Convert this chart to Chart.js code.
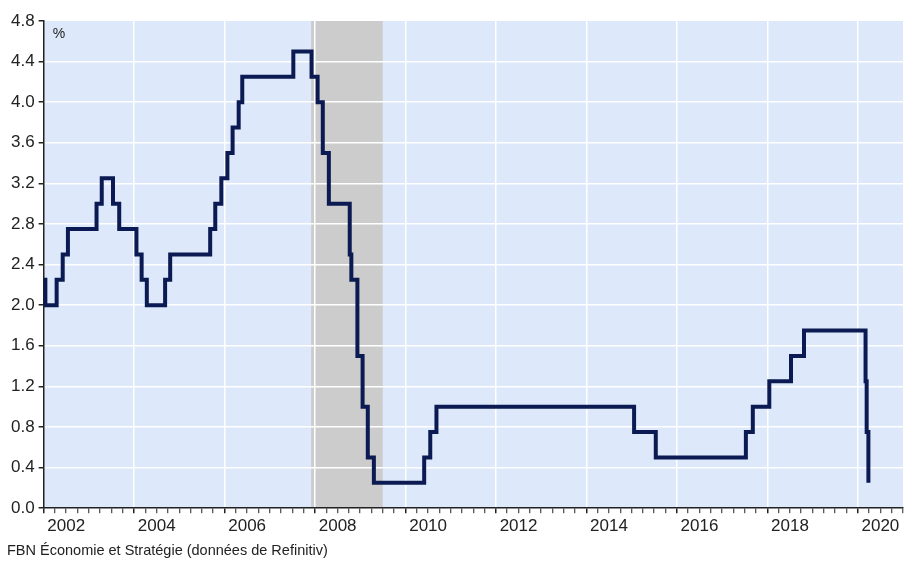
<!DOCTYPE html>
<html>
<head>
<meta charset="utf-8">
<script src="https://cdn.jsdelivr.net/npm/chart.js@4/dist/chart.umd.min.js"></script>
<style>
  html, body { margin: 0; padding: 0; background: #ffffff; }
  #wrap { width: 904px; height: 564px; }
</style>
</head>
<body>
<div id="wrap"><canvas id="rateChart" width="904" height="564"></canvas></div>
<script>
// Taux cible du financement à un jour (dates de changement et nouveau taux, %)
const changeDates = [
  "2002-01-01", "2002-01-15", "2002-04-16", "2002-06-04", "2002-07-16",
  "2003-03-04", "2003-04-15", "2003-07-15", "2003-09-03",
  "2004-01-20", "2004-03-02", "2004-04-13", "2004-09-08", "2004-10-19",
  "2005-09-07", "2005-10-18", "2005-12-06",
  "2006-01-24", "2006-03-07", "2006-04-25", "2006-05-24",
  "2007-07-10", "2007-12-04",
  "2008-01-22", "2008-03-04", "2008-04-22", "2008-10-08", "2008-10-21", "2008-12-09",
  "2009-01-20", "2009-03-03", "2009-04-21",
  "2010-06-01", "2010-07-20", "2010-09-08",
  "2015-01-21", "2015-07-15",
  "2017-07-12", "2017-09-06",
  "2018-01-17", "2018-07-11", "2018-10-24",
  "2020-03-04", "2020-03-13", "2020-03-27"
];
const rates = [
  2.25, 2.00, 2.25, 2.50, 2.75,
  3.00, 3.25, 3.00, 2.75,
  2.50, 2.25, 2.00, 2.25, 2.50,
  2.75, 3.00, 3.25,
  3.50, 3.75, 4.00, 4.25,
  4.50, 4.25,
  4.00, 3.50, 3.00, 2.50, 2.25, 1.50,
  1.00, 0.50, 0.25,
  0.50, 0.75, 1.00,
  0.75, 0.50,
  0.75, 1.00,
  1.25, 1.50, 1.75,
  1.25, 0.75, 0.25
];

// Récession (zone grisée)
const recessionStart = "2007-12-01";
const recessionEnd = "2009-07-01";

// Étiquettes de l'axe horizontal et graduations de l'axe vertical
const yearLabels = [2002, 2004, 2006, 2008, 2010, 2012, 2014, 2016, 2018, 2020];
const yTicks = [0.0, 0.4, 0.8, 1.2, 1.6, 2.0, 2.4, 2.8, 3.2, 3.6, 4.0, 4.4, 4.8];

const xMin = 2002;
const xMax = 2021;

// date "AAAA-MM-JJ" -> année décimale
function toYear(s) {
  const [y, m, d] = s.split("-").map(Number);
  const start = Date.UTC(y, 0, 1);
  const end = Date.UTC(y + 1, 0, 1);
  return y + (Date.UTC(y, m - 1, d) - start) / (end - start);
}

const points = changeDates.map((d, i) => ({ x: toYear(d), y: rates[i] }));

const isEvenYear = (v) =>
  Math.abs(v - Math.round(v)) < 1e-6 && Math.round(v) % 2 === 0;

// fond bleu + zone de récession, sous la grille
const backdrop = {
  id: "backdrop",
  beforeDraw(chart) {
    const { ctx, chartArea: a, scales } = chart;
    ctx.save();
    ctx.fillStyle = "#dde9fb";
    ctx.fillRect(a.left, a.top, a.right - a.left, a.bottom - a.top);
    const x0 = scales.x.getPixelForValue(toYear(recessionStart));
    const x1 = scales.x.getPixelForValue(toYear(recessionEnd));
    ctx.fillStyle = "#cccccc";
    ctx.fillRect(x0, a.top, x1 - x0, a.bottom - a.top);
    ctx.restore();
  },
  afterDraw(chart) {
    const { ctx, chartArea: a } = chart;
    ctx.save();
    ctx.fillStyle = "#222222";
    ctx.font = "14px 'Liberation Sans', Arial, sans-serif";
    ctx.textBaseline = "middle";
    ctx.fillText("%", a.left + 9, a.top + 13);
    ctx.restore();
  },
};

Chart.defaults.font.family = "'Liberation Sans', Arial, sans-serif";
Chart.defaults.color = "#222222";

new Chart(document.getElementById("rateChart"), {
  type: "line",
  data: {
    datasets: [
      {
        label: "Taux directeur",
        data: points,
        stepped: true,
        borderColor: "#0b1a52",
        borderWidth: 4,
        pointRadius: 0,
        fill: false,
      },
    ],
  },
  options: {
    responsive: false,
    animation: false,
    layout: { padding: { top: 21, left: 7, right: 1, bottom: 3 } },
    plugins: {
      legend: { display: false },
      tooltip: { enabled: false },
      subtitle: {
        display: true,
        position: "bottom",
        align: "start",
        text: "FBN Économie et Stratégie (données de Refinitiv)",
        font: { size: 14.5 },
        color: "#222222",
        padding: { top: 3, bottom: 1 },
      },
    },
    scales: {
      x: {
        type: "linear",
        min: xMin,
        max: xMax,
        weight: 0,
        ticks: { display: false, stepSize: 0.25, autoSkip: false },
        grid: {
          color: (c) =>
            c.tick && isEvenYear(c.tick.value) && c.tick.value > xMin
              ? "#ffffff"
              : "rgba(0,0,0,0)",
          lineWidth: 1.5,
          tickColor: "#222222",
          tickLength: 5,
          tickWidth: (c) => (c.tick && isEvenYear(c.tick.value) ? 1.5 : 1),
        },
        border: { display: true, color: "#222222", width: 1.5 },
      },
      x2: {
        type: "linear",
        position: "bottom",
        min: xMin,
        max: xMax,
        weight: 1,
        afterBuildTicks: (axis) => {
          axis.ticks = yearLabels.map((y) => ({ value: y + 0.5 }));
        },
        ticks: {
          autoSkip: false,
          maxRotation: 0,
          padding: 3,
          font: { size: 17 },
          color: "#222222",
          callback: (v) => String(Math.floor(v)),
        },
        grid: { display: false, drawTicks: false },
        border: { display: false },
      },
      y: {
        min: 0,
        max: 4.8,
        afterBuildTicks: (axis) => {
          axis.ticks = yTicks.map((v) => ({ value: v }));
        },
        ticks: {
          padding: 4,
          font: { size: 17 },
          color: "#222222",
          callback: (v) => Number(v).toFixed(1),
        },
        grid: {
          color: (c) =>
            c.tick && c.tick.value > 0 && c.tick.value < 4.8
              ? "#ffffff"
              : "rgba(0,0,0,0)",
          lineWidth: 1.5,
          tickColor: "#222222",
          tickLength: 5,
        },
        border: { display: true, color: "#222222", width: 1.5 },
      },
    },
  },
  plugins: [backdrop],
});
</script>
</body>
</html>
